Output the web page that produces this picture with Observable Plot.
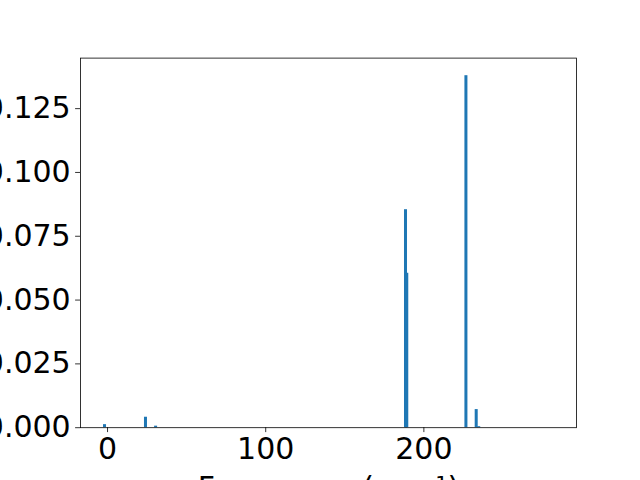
<!DOCTYPE html>
<html>
<head>
<meta charset="utf-8">
<script src="https://cdn.jsdelivr.net/npm/d3@7"></script>
<script src="https://cdn.jsdelivr.net/npm/@observablehq/plot@0.6"></script>
<style>
  html, body { margin: 0; padding: 0; background: white; overflow: hidden; }
  #chart { width: 640px; height: 480px; overflow: hidden; }
</style>
</head>
<body>
<div id="chart"></div>
<script>
// Data
const frequencies = [-1.6, 24.3, 30.7, 188.7, 189.5, 226.9, 233.4, 235.0, 281.2];
const intensities = [0.0012, 0.0041, 0.0006, 0.0854, 0.0605, 0.1379, 0.0071, 0.0004, 0.0];
const xTicks = [0, 100, 200];
const yTicks = [0, 0.025, 0.05, 0.075, 0.1, 0.125];
const xLabel = "Frequency (cm⁻¹)";

const rows = frequencies.map((f, i) => ({f, v: intensities[i]}));
const barHalf = 0.95;

const xMin = -17.1, xMax = 296.5;
const yMax = d3.max(intensities) * 1.05;

const plot = Plot.plot({
  width: 640,
  height: 480,
  marginLeft: 80,
  marginRight: 64,
  marginTop: 57.6,
  marginBottom: 52.8,
  style: {fontFamily: "DejaVu Sans", fontSize: "30px", color: "black", background: "white", overflow: "visible"},
  x: {domain: [xMin, xMax]},
  y: {domain: [0, yMax]},
  marks: [
    Plot.rectY(rows, {x1: d => d.f - barHalf, x2: d => d.f + barHalf, y: "v", fill: "#1f77b4", inset: 0}),
    Plot.frame({stroke: "black", strokeWidth: 0.8}),
    Plot.axisX({ticks: xTicks, tickSize: 4.9, tickPadding: 4.9, tickFormat: d => String(d),
      label: xLabel, labelAnchor: "center", labelArrow: "none", labelOffset: 70, fill: "black", stroke: "black", strokeWidth: 0.8, strokeOpacity: 1}),
    Plot.axisY({ticks: yTicks, tickSize: 4.9, tickPadding: 4.9, tickFormat: d3.format(".3f"),
      label: null, fill: "black", stroke: "black", strokeWidth: 0.8, strokeOpacity: 1})
  ]
});
document.getElementById("chart").appendChild(plot);
</script>
</body>
</html>
